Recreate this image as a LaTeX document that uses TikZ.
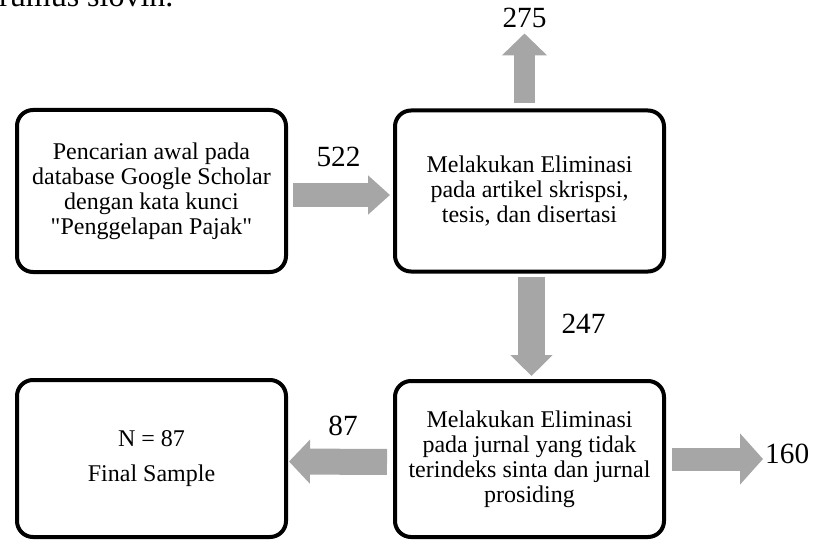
\documentclass[tikz,border=0pt]{standalone}
\usepackage{fontspec}
\setmainfont{Liberation Serif}
\newfontfamily\plainserif{Liberation Serif}
\usepackage{tikz}
\usetikzlibrary{arrows.meta}

\definecolor{arrowgray}{RGB}{166,166,166}

\begin{document}
\begin{tikzpicture}[x=1pt,y=-1pt,
  box/.style={draw,line width=4pt,rounded corners=16pt,minimum width=269pt,
    align=center,font=\fontsize{24}{25}\selectfont},
  count/.style={anchor=base,inner sep=0pt,font=\fontsize{29.3}{30}\selectfont},
  blockarrow/.style n args={3}{draw=arrowgray,line width=#1,
    -{Triangle[width=#2,length=#3]}}]
  \useasboundingbox (0,0) rectangle (813,540);
  \node[anchor=base west,inner sep=0pt,font=\fontsize{32}{34}\selectfont] (body) at (-1,7) {rumus slovin.};
  \node[box,minimum height=162pt] (search) at (151.5,191)
    {Pencarian awal pada\\database Google Scholar\\dengan kata kunci\\{\plainserif"}Penggelapan Pajak{\plainserif"}};
  \node[box,minimum height=161pt] (elim1) at (529.5,191)
    {Melakukan Eliminasi\\pada artikel skrispsi,\\tesis, dan disertasi};
  \node[box,minimum height=156pt] (elim2) at (529.5,459)
    {Melakukan Eliminasi\\pada jurnal yang tidak\\terindeks sinta dan jurnal\\prosiding};
  \node[box,minimum height=157pt] (final) at (151.5,458.5) {N = 87\\[10pt]Final Sample};
  % counts
  \node[count] (n522) at (338.5,167) {522};
  \node[count] (n275) at (524.5,28) {275};
  \node[count] (n247) at (583.5,333) {247};
  \node[count,anchor=base west] (n160) at (765,463) {160};
  \node[count] (n87) at (343,435) {87};
  % flow
  \draw[blockarrow={24pt}{38pt}{22pt},shorten <=5pt,shorten >=3pt]
    ([yshift=-4pt]search.east) -- ([yshift=-4pt]elim1.west);
  \draw[blockarrow={21pt}{44pt}{22pt},shorten <=5pt,shorten >=5pt]
    ([xshift=-5pt]elim1.north) -- (n275.south);
  \draw[blockarrow={27pt}{41pt}{21pt},shorten <=3pt,shorten >=3pt]
    ([xshift=2pt]elim1.south) -- ([xshift=2pt]elim2.north);
  \draw[blockarrow={23pt}{50pt}{23pt},shorten <=6pt,shorten >=2pt]
    (elim2.east) -- (elim2.east -| n160.west);
  \draw[blockarrow={26pt}{43pt}{21pt},shorten <=6pt,shorten >=1pt]
    ([yshift=-3pt]elim2.west) -- ([yshift=-3pt]final.east);
\end{tikzpicture}
\end{document}
